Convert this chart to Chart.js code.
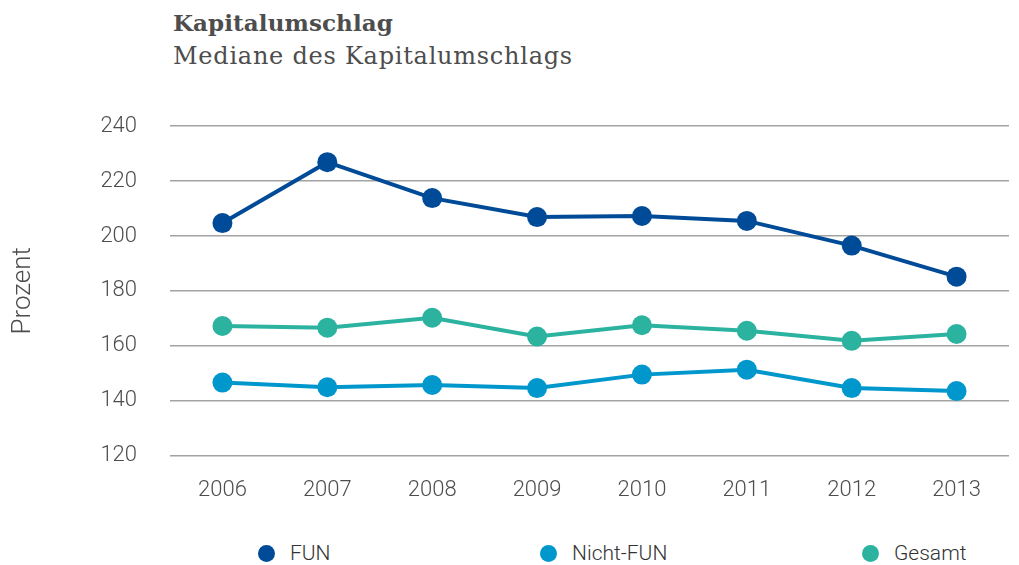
<!DOCTYPE html>
<html lang="de">
<head>
<meta charset="utf-8">
<script src="https://cdn.jsdelivr.net/npm/chart.js@4"></script>
<style>
  html, body { margin: 0; padding: 0; background: #fff; }
  body { width: 1019px; height: 565px; position: relative; overflow: hidden; }
  .head { position: absolute; left: 173px; top: 6px; color: #4d4d4d; font-family: "DejaVu Serif", serif; font-size: 24px; line-height: 33px; letter-spacing: 0.75px; }
  .head b { font-weight: bold; font-size: 23px; letter-spacing: 0.1px; }
  .wrap { position: absolute; left: 0; top: 80px; width: 1019px; height: 446px; }
  #legend { position: absolute; top: 541px; left: 0; width: 1019px; margin: 0; padding: 0; list-style: none; font-family: Roboto, sans-serif; font-weight: 300; font-size: 21px; color: #333; }
  #legend li { position: absolute; display: flex; align-items: center; height: 24px; }
  #legend .dot { width: 17px; height: 17px; border-radius: 50%; margin-right: 15px; }
</style>
</head>
<body>
<div class="head"><b>Kapitalumschlag</b><br>Mediane des Kapitalumschlags</div>
<div class="wrap"><canvas id="chart"></canvas></div>
<ul id="legend"></ul>
<script>
const years = ["2006", "2007", "2008", "2009", "2010", "2011", "2012", "2013"];
const fun = [204.7, 226.9, 213.8, 206.9, 207.3, 205.5, 196.5, 185.2];
const nichtFun = [146.6, 144.9, 145.7, 144.6, 149.5, 151.3, 144.6, 143.5];
const gesamt = [167.2, 166.6, 170.2, 163.4, 167.5, 165.5, 161.8, 164.3];
const yTicks = [120, 140, 160, 180, 200, 220, 240];

const series = [
  { label: "FUN", data: fun, color: "#004b97", dotLeft: 258 },
  { label: "Nicht-FUN", data: nichtFun, color: "#0097cc", dotLeft: 540 },
  { label: "Gesamt", data: gesamt, color: "#2bb3a0", dotLeft: 862 },
];

function buildLegend() {
  const legend = document.getElementById("legend");
  series.forEach((s) => {
    const item = document.createElement("li");
    item.style.left = s.dotLeft + "px";
    item.innerHTML = `<span class="dot" style="background:${s.color}"></span><span>${s.label}</span>`;
    legend.appendChild(item);
  });
}

function initChart() {
  const ctx = document.getElementById("chart").getContext("2d");
  const tickFont = { family: "Roboto", size: 22, weight: "300" };

  new Chart(ctx, {
    type: "line",
    data: {
      labels: years,
      datasets: series.map((s) => ({
        label: s.label,
        data: s.data,
        borderColor: s.color,
        backgroundColor: s.color,
        borderWidth: 4,
        pointRadius: 10,
        pointBorderWidth: 0,
        pointBackgroundColor: s.color,
        tension: 0,
        fill: false,
      })),
    },
    options: {
      responsive: true,
      maintainAspectRatio: false,
      animation: false,
      layout: { padding: { top: 15, right: 0, bottom: 0, left: 0 } },
      scales: {
        x: {
          offset: true,
          grid: { display: false, drawTicks: false },
          border: { display: false },
          ticks: { color: "#4d4d4d", font: tickFont, padding: 22 },
        },
        y: {
          min: yTicks[0],
          max: yTicks[yTicks.length - 1],
          afterBuildTicks(axis) {
            axis.ticks = yTicks.map((v) => ({ value: v }));
          },
          afterFit(axis) {
            axis.width = 170;
          },
          grid: { color: "#a3a3a3", lineWidth: 1.5, drawTicks: false },
          border: { display: false },
          ticks: { color: "#4d4d4d", font: tickFont, padding: 33 },
          title: {
            display: true,
            text: "Prozent",
            color: "#4d4d4d",
            font: { family: "Roboto", size: 26, weight: "300" },
            padding: { top: 8, bottom: 0 },
          },
        },
      },
      plugins: {
        legend: { display: false },
        tooltip: { enabled: false },
      },
    },
  });
}

document.addEventListener("DOMContentLoaded", () => {
  buildLegend();
  initChart();
});
</script>
</body>
</html>
